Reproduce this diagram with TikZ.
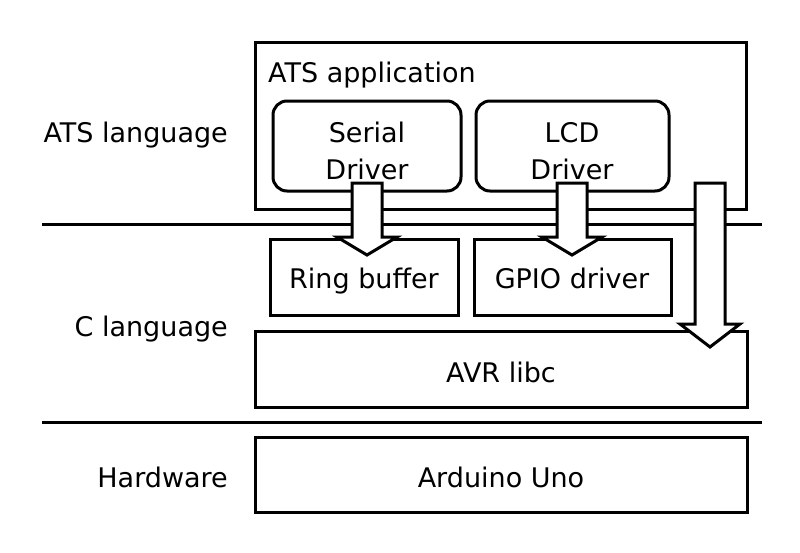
\documentclass[tikz,border=0pt]{standalone}
\usepackage{fontspec}
\setmainfont{DejaVu Sans}
\begin{document}
\begin{tikzpicture}[x=1pt,y=-1pt,
  box/.style={draw=black,line width=3pt,fill=white},
  rbox/.style={draw=black,line width=3pt,fill=white,rounded corners=14pt},
  sep/.style={draw=black,line width=3pt},
  blk/.style={draw=black,line width=3pt,fill=white,line join=miter},
  lbl/.style={font=\fontsize{27}{32}\selectfont,inner sep=0pt,anchor=base},
  lay/.style={font=\fontsize{27}{32}\selectfont,inner sep=0pt,anchor=base east}]
\useasboundingbox (0,0) rectangle (800,552);
% separators
\coordinate (l1a) at (42,224); \coordinate (l1b) at (762,224);
\coordinate (l2a) at (42,422); \coordinate (l2b) at (762,422);
\draw[sep] (l1a) -- (l1b);
\draw[sep] (l2a) -- (l2b);
% ATS application
\draw[box] (255,42) rectangle (746,209);
\node[lbl,anchor=base west] (app) at (268,82) {ATS application};
\draw[rbox] (273,101) rectangle (461,191);
\node[lbl] (ser1) at (367,142) {Serial};
\node[lbl] (ser2) at (367,179) {Driver};
\draw[rbox] (476,101) rectangle (669,191);
\node[lbl] (lcd1) at (572,142) {LCD};
\node[lbl] (lcd2) at (572,179) {Driver};
% C layer
\draw[box] (270,239) rectangle (458,315);
\node[lbl] (ring) at (364,288) {Ring buffer};
\draw[box] (474,239) rectangle (671,315);
\node[lbl] (gpio) at (572,288) {GPIO driver};
\draw[box] (255,331) rectangle (747,407);
\node[lbl] (avr) at (501,382) {AVR libc};
% hardware
\draw[box] (255,437) rectangle (747,512);
\node[lbl] (uno) at (501,487) {Arduino Uno};
% layer labels
\node[lay] (ats) at (228,142) {ATS language};
\node[lay] (cl) at (228,336) {C language};
\node[lay] (hw) at (228,487) {Hardware};
% block arrows
\draw[blk] (352,183) -- (382,183) -- (382,237) -- (397,237) -- (367,255) -- (337,237) -- (352,237) -- cycle;
\draw[blk] (557,183) -- (587,183) -- (587,237) -- (602,237) -- (572,255) -- (542,237) -- (557,237) -- cycle;
\draw[blk] (695,183) -- (725,183) -- (725,324) -- (740,324) -- (710,347) -- (680,324) -- (695,324) -- cycle;
\end{tikzpicture}
\end{document}
